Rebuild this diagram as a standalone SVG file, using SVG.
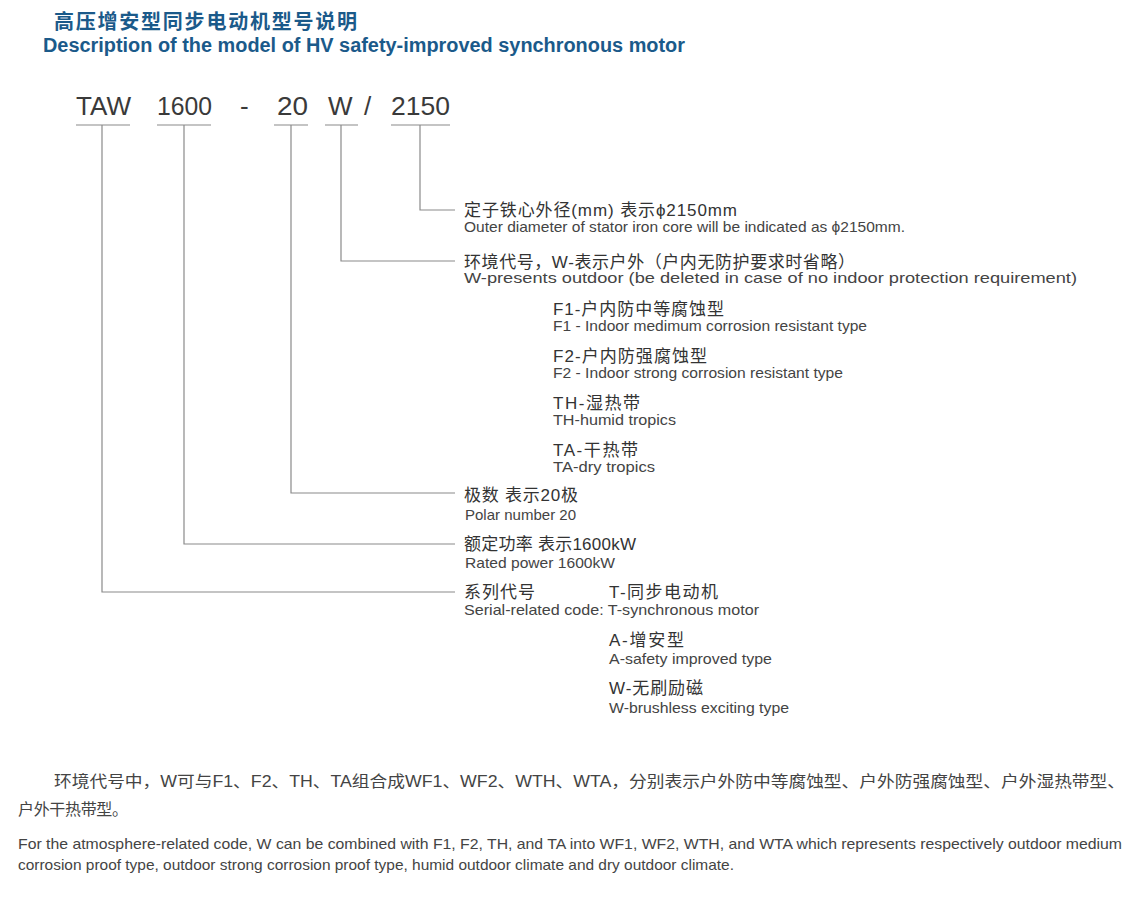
<svg xmlns="http://www.w3.org/2000/svg" width="1135" height="897" viewBox="0 0 1135 897">
<style>
text{font-family:"Liberation Sans","Noto Sans CJK SC",sans-serif;fill:#333}
.title{font-weight:bold;fill:#1b5a8a}
.model{font-size:26px;fill:#3a3a3a}
.zh{font-size:17px}
.en{font-size:14.5px;fill:#444}
.para{font-size:16px;fill:#444}
.parae{font-size:14.5px;fill:#444}
.ul{stroke:#8a8a8a;stroke-width:1.2;fill:none}
.ln{stroke:#8a8a8a;stroke-width:1.2;fill:none}
</style>
<rect width="1135" height="897" fill="#fff"/>
<g id="title">
<text class="title" x="54" y="29" font-size="20" textLength="303">高压增安型同步电动机型号说明</text>
<text class="title" x="43" y="52" font-size="19.5" textLength="642" lengthAdjust="spacingAndGlyphs">Description of the model of HV safety-improved synchronous motor</text>
</g>
<g id="model">
<text class="model" x="76" y="115" textLength="55" lengthAdjust="spacingAndGlyphs">TAW</text>
<text class="model" x="157" y="115" textLength="55" lengthAdjust="spacingAndGlyphs">1600</text>
<text class="model" x="240" y="115">-</text>
<text class="model" x="277" y="115" textLength="31" lengthAdjust="spacingAndGlyphs">20</text>
<text class="model" x="328" y="115">W</text>
<text class="model" x="364" y="115">/</text>
<text class="model" x="391" y="115" textLength="59" lengthAdjust="spacingAndGlyphs">2150</text>
</g>
<g id="connectors">
<line class="ul" x1="76" y1="125" x2="130" y2="125"/>
<line class="ul" x1="157" y1="125" x2="211" y2="125"/>
<line class="ul" x1="274" y1="125" x2="308" y2="125"/>
<line class="ul" x1="325" y1="125" x2="358" y2="125"/>
<line class="ul" x1="391" y1="125" x2="450" y2="125"/>
<polyline class="ln" points="420,125 420,210 455,210"/>
<polyline class="ln" points="341,125 341,261 455,261"/>
<polyline class="ln" points="291,125 291,493 455,493"/>
<polyline class="ln" points="184,125 184,544 455,544"/>
<polyline class="ln" points="102,125 102,592 455,592"/>
</g>
<g id="node-diameter">
<text class="zh" x="464" y="216" textLength="273">定子铁心外径(mm) 表示ϕ2150mm</text>
<text class="en" x="464" y="232" textLength="441" lengthAdjust="spacingAndGlyphs">Outer diameter of stator iron core will be indicated as ϕ2150mm.</text>
</g>
<g id="node-environment">
<text class="zh" x="464" y="268" textLength="391">环境代号，W-表示户外（户内无防护要求时省略）</text>
<text class="en" x="464" y="283" textLength="613" lengthAdjust="spacingAndGlyphs">W-presents outdoor (be deleted in case of no indoor protection requirement)</text>
</g>
<g id="node-f1">
<text class="zh" x="553" y="315" textLength="171">F1-户内防中等腐蚀型</text>
<text class="en" x="553" y="331" textLength="314" lengthAdjust="spacingAndGlyphs">F1 - Indoor medimum corrosion resistant type</text>
</g>
<g id="node-f2">
<text class="zh" x="553" y="362" textLength="154">F2-户内防强腐蚀型</text>
<text class="en" x="553" y="378" textLength="290" lengthAdjust="spacingAndGlyphs">F2 - Indoor strong corrosion resistant type</text>
</g>
<g id="node-th">
<text class="zh" x="553" y="409" textLength="87">TH-湿热带</text>
<text class="en" x="553" y="425" textLength="123" lengthAdjust="spacingAndGlyphs">TH-humid tropics</text>
</g>
<g id="node-ta">
<text class="zh" x="553" y="456" textLength="85">TA-干热带</text>
<text class="en" x="553" y="472" textLength="102" lengthAdjust="spacingAndGlyphs">TA-dry tropics</text>
</g>
<g id="node-polar">
<text class="zh" x="464" y="501" textLength="114">极数 表示20极</text>
<text class="en" x="465" y="520" textLength="111" lengthAdjust="spacingAndGlyphs">Polar number 20</text>
</g>
<g id="node-power">
<text class="zh" x="464" y="550" textLength="172">额定功率 表示1600kW</text>
<text class="en" x="465" y="568" textLength="150" lengthAdjust="spacingAndGlyphs">Rated power 1600kW</text>
</g>
<g id="node-series">
<text class="zh" x="464" y="598" textLength="71">系列代号</text>
<text class="zh" x="609" y="598" textLength="109">T-同步电动机</text>
<text class="en" x="464" y="615" textLength="295" lengthAdjust="spacingAndGlyphs">Serial-related code: T-synchronous motor</text>
</g>
<g id="node-a">
<text class="zh" x="609" y="646" textLength="75">A-增安型</text>
<text class="en" x="609" y="664" textLength="163" lengthAdjust="spacingAndGlyphs">A-safety improved type</text>
</g>
<g id="node-w">
<text class="zh" x="609" y="694" textLength="94">W-无刷励磁</text>
<text class="en" x="609" y="713" textLength="180" lengthAdjust="spacingAndGlyphs">W-brushless exciting type</text>
</g>
<g id="note">
<text class="para" x="54" y="787" textLength="1071" lengthAdjust="spacingAndGlyphs">环境代号中，W可与F1、F2、TH、TA组合成WF1、WF2、WTH、WTA，分别表示户外防中等腐蚀型、户外防强腐蚀型、户外湿热带型、</text>
<text class="para" x="18" y="815" textLength="110">户外干热带型。</text>
<text class="parae" x="18" y="849" textLength="1104" lengthAdjust="spacingAndGlyphs">For the atmosphere-related code, W can be combined with F1, F2, TH, and TA into WF1, WF2, WTH, and WTA which represents respectively outdoor medium</text>
<text class="parae" x="18" y="870" textLength="716" lengthAdjust="spacingAndGlyphs">corrosion proof type, outdoor strong corrosion proof type, humid outdoor climate and dry outdoor climate.</text>
</g>
</svg>
